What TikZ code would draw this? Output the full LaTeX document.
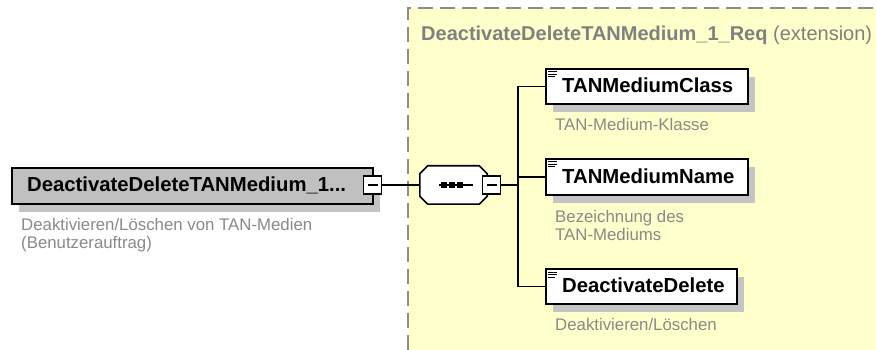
\documentclass[tikz,border=0pt]{standalone}
\usepackage{fontspec}
\setmainfont{Liberation Sans}
\usetikzlibrary{shadows,calc}
\definecolor{ybg}{HTML}{FFFFCC}
\definecolor{framegray}{HTML}{8C8C8C}
\definecolor{shgray}{HTML}{C4C4C4}
\definecolor{rootfill}{HTML}{C0C0C0}
\definecolor{descgray}{HTML}{8A8A8A}
\definecolor{titlegray}{HTML}{808080}
\tikzset{
  elbox/.style={draw=black, line width=1.7pt, fill=white, rectangle, anchor=north west, inner sep=0pt,
    general shadow={fill=shgray, shadow xshift=7pt, shadow yshift=-8pt}},
  rootbox/.style={elbox, fill=rootfill},
  lbl/.style={anchor=base west, inner sep=0pt, font=\fontsize{20.3}{24}\selectfont\bfseries, text=black},
  dsc/.style={anchor=north west, inner sep=0pt, align=left, font=\fontsize{16.8}{18.5}\selectfont, text=descgray},
  ttl/.style={anchor=base west, inner sep=0pt, font=\fontsize{20}{24}\selectfont, text=titlegray},
  minusbox/.style={draw=black, line width=1.4pt, fill=white, minimum width=18pt, minimum height=18pt, inner sep=0pt},
  minussign/.style={draw=black, line width=1.4pt},
  conn/.style={draw=black, line width=1.6pt},
  frame/.style={draw=framegray, line width=1.5pt, dash pattern=on 15pt off 7pt},
  seqbox/.style={draw=none, minimum width=67pt, minimum height=38pt, inner sep=0pt},
  octo/.style={draw=black, line width=1.6pt, fill=white},
  icon/.style={draw=black, line width=1pt},
}
\begin{document}
\begin{tikzpicture}[x=1pt,y=-1pt]
\useasboundingbox (0,0) rectangle (876,350);
\fill[white] (0,0) rectangle (876,350);
% extension frame
\fill[ybg] (408,8) rectangle (876,350);
\draw[frame] (408,350) -- (408,8) -- (876,8);
\node[ttl] (title) at (421,41) {\textbf{DeactivateDeleteTANMedium\_1\_Req} (extension)};

% root element
\node[rootbox, minimum width=361pt, minimum height=36pt] (root) at (11,167) {};
\node[lbl] (rootl) at (27,192) {DeactivateDeleteTANMedium\_1...};
\node[minusbox] (rootm) at (372.5,185) {};
\draw[minussign] ($(rootm.center)+(-5,0)$) -- ($(rootm.center)+(5,0)$);
\node[dsc] (rootd) at (21,217.7) {Deaktivieren/Löschen von TAN-Medien\\(Benutzerauftrag)};

% sequence compositor
\node[seqbox] (seq) at (453.5,185) {};
\fill[shgray, xshift=7pt, yshift=-8pt]
  ($(seq.north west)+(8,0)$) -- ($(seq.north east)+(-8,0)$) -- ($(seq.north east)+(0,8)$) --
  ($(seq.south east)+(0,-8)$) -- ($(seq.south east)+(-8,0)$) -- ($(seq.south west)+(8,0)$) --
  ($(seq.south west)+(0,-8)$) -- ($(seq.north west)+(0,8)$) -- cycle;
\draw[octo]
  ($(seq.north west)+(8,0)$) -- ($(seq.north east)+(-8,0)$) -- ($(seq.north east)+(0,8)$) --
  ($(seq.south east)+(0,-8)$) -- ($(seq.south east)+(-8,0)$) -- ($(seq.south west)+(8,0)$) --
  ($(seq.south west)+(0,-8)$) -- ($(seq.north west)+(0,8)$) -- cycle;
\draw[line width=1.4pt] ($(seq.center)+(-14.5,0)$) -- ($(seq.center)+(19.5,0)$);
\foreach \dx in {-9.5,-1.5,6.5}
  \fill[black] ($(seq.center)+(\dx-3,-3)$) rectangle ($(seq.center)+(\dx+3,3)$);
\node[minusbox] (seqm) at (491.5,185) {};
\draw[minussign] ($(seqm.center)+(-5,0)$) -- ($(seqm.center)+(5,0)$);

% child elements
\node[elbox, minimum width=202pt, minimum height=35pt] (c1) at (545,68) {};
\node[lbl] (c1l) at (562,92.5) {TANMediumClass};
\node[dsc] (c1d) at (555,117.7) {TAN-Medium-Klasse};

\node[elbox, minimum width=202pt, minimum height=36pt] (c2) at (545,158) {};
\node[lbl] (c2l) at (562,183) {TANMediumName};
\node[dsc] (c2d) at (555,209.7) {Bezeichnung des\\TAN-Mediums};

\node[elbox, minimum width=191pt, minimum height=35pt] (c3) at (545,268) {};
\node[lbl] (c3l) at (562,292.5) {DeactivateDelete};
\node[dsc] (c3d) at (555,317.7) {Deaktivieren/Löschen};

\foreach \b in {c1,c2,c3} {
  \draw[icon] ($(\b.north west)+(3,4)$) -- ++(9,0);
  \draw[icon] ($(\b.north west)+(3,6.5)$) -- ++(9,0);
  \draw[icon] ($(\b.north west)+(3,9)$) -- ++(7,0);
}

% connectors
\coordinate (bus) at (518,185);
\draw[conn] (rootm.east) -- (seq.west);
\draw[conn] (seqm.east) -- (bus);
\draw[conn] (c1.west) -| (bus) |- (c3.west);
\draw[conn] (c2.west) -| (bus);
\end{tikzpicture}
\end{document}
